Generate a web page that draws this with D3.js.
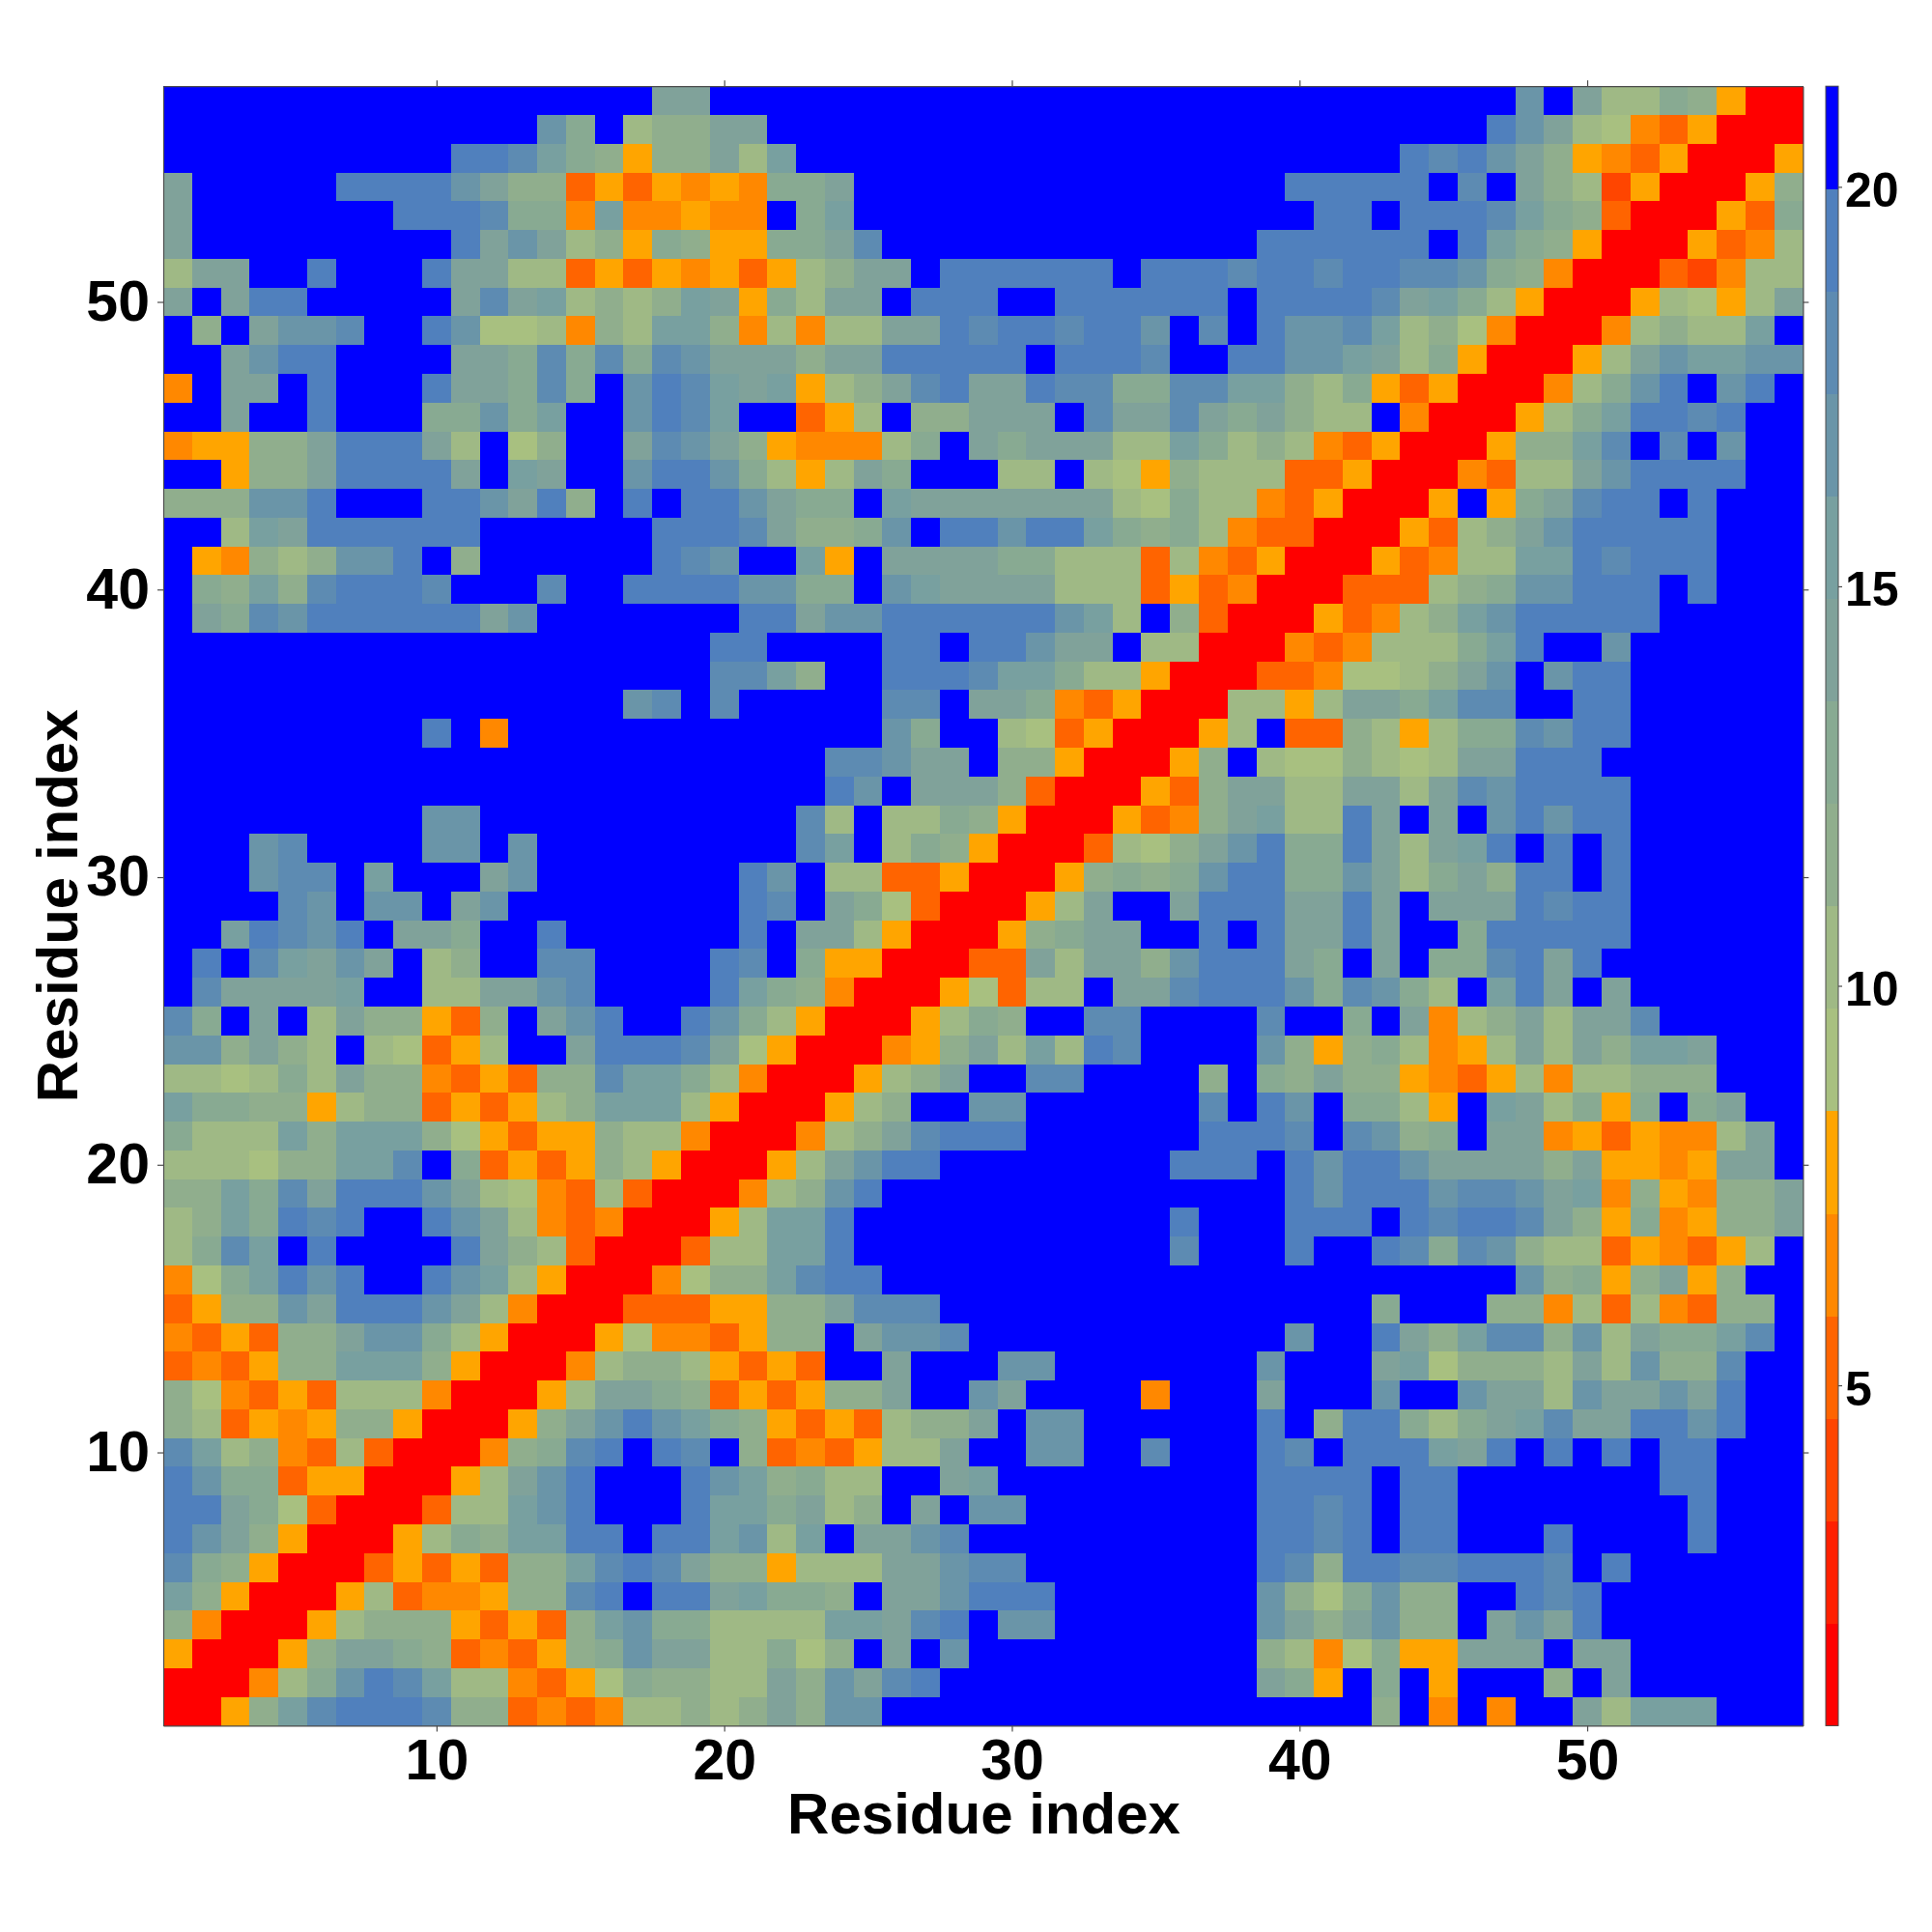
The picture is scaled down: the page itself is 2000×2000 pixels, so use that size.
<!DOCTYPE html>
<html><head><meta charset="utf-8">
<script src="https://cdn.jsdelivr.net/npm/d3@7"></script>
<style>html,body{margin:0;padding:0;background:#fff}svg{display:block}</style>
</head><body><svg id="chart" width="2000" height="2000"></svg>
<script>
// Band code per cell: rows run from residue 57 (top) to residue 1 (bottom), columns from residue 1 to 57.
const distanceRows = [
"ffffffffff fffffffaaf ffffffffff ffffffffff fffffffcfa 7798500",
"ffffffffff fffc9f788a afffffffff ffffffffff ffffffeca7 6435000",
"ffffffffff eedb98588a 7bffffffff ffffffffff fffedeca85 4350005",
"afffffeeee ca88353545 499affffff fffffffffe eeeefdfa87 2500058",
"afffffffee ed994b4454 4f9bffffff ffffffffff eefeeedb98 3000539",
"afffffffff eaca785985 599adfffff ffffffffee eeeefeb985 0005347",
"7aaffefffe aa77353545 3578aafeee eeefeeedee deeddc9840 0032477",
"afaeefffff adab7878ba 597aafeeef feeeeeefee eedab97500 0576 57a",
"f8faccdffe c667487bb8 47477aaede edeecfdfec cdb7864000 47877bf",
"ffaceeffff aa9d9d9dca aa8aaeeeee feeedffeec cba7950005 7acbbcc",
"4faafefffe aa9d9fcedb ab578adeaa edd99ddbb8 7953500047 9cefcef",
"ffaffefff9 9c9bffcedb ff357f88aa afdaada9a8 77f4000579 beedeff",
"45588aeeea 7f68ffadca 8544479fa9 aaa77b9787 435000588b dfdfcff",
"ff588aeeee afbaffceec 9757a9fff7 7f76587773 350004377a ceeeeff",
"888ccefffe ecae8fefee ca99fbaaaa aaa7697743 50005f59ad eefefff",
"ff7baeeeee effffffeee da889cfeec eeb9897433 0005378ace eeeefff",
"f54878ccef 8ffffffedc ffb5faaaa9 9777374350 0053477bbe deeefff",
"f98b8deeed fffdffeeee cc99fcbaaa a777353400 0333789cce eefefff",
"fa9dceeeee eacfffffff eeacceeeee ecb7f83000 53478bceee eefffff",
"ffffffffff fffffffffe effffeefee caaf770004 347779beff cffffff",
"ffffffffff fffffffffd db8ffeeedb b977500033 46678acfce effffff",
"ffffffffff ffffffcdfd fffffddfaa 9435000775 7aa9bddffe effffff",
"fffffffffe f4ffffffff fffffc9ff7 63500057f3 3875799dce effffff",
"ffffffffff ffffffffff fffddcaaf8 8500058f76 68767aaeee fffffff",
"ffffffffff ffffffffff fffecfaaa8 3000538aa7 7aa7adceee effffff",
"fffffffffc cfffffffff ffd7f77985 0005348ab7 7eafafcece effffff",
"fffcdffffc cfcfffffff ffdbf79850 003768ace9 9ea7abefef effffff",
"fffcddfbff facfffffff ecf7733500 058989cee9 9ca79a8eef effffff",
"ffffdcfccf acffffffff edfa963000 57affaeeea aeafaaaede effffff",
"ffbedcefaa 9ffeffffff efaa750005 89aaffefea aeaff9eeee effffff",
"fefdbacaf7 8ffddffffe df95500033 a7aa8ceeea 9faf99deae fffffff",
"fdaaaabff7 7aacdffffe b984000563 77faadeeec 9dc97fbeaf affffff",
"d9faf7a885 38faceffec 9750005798 ffddffffdf f9fa478a7a adfffff",
"cc8a87f763 57ffaeeeda 65000458a7 b7edffffc8 5897457a7a 8bbafff",
"776797a884 35388dbb97 4000578aff ddffff8f98 a885435747 7888fff",
"b998857883 53578bbb75 000578ffcc ffffffdfec f9975fba79 59f9aff",
"9777b8bbb8 6535587740 00478adeee ffffffeeed fdc89faa45 35447af",
"777688bbdf 9353587500 057aceefff fffffeeefe ceecaaaa8a 5545aaf",
"88b9daeeec a764373000 478cefffff fffffffffe ceeecddcab 485488a",
"78b9edeffe ca74340005 7bbeffffff fffffefffe eefedeeda8 594588a",
"79dbfeffff ea87300037 7bbeffffff fffffdfffe ffed9dc877 354357f",
"469beceffe cb75000468 8bdeefffff ffffffffff fffffffc89 58a58ff",
"3588caeeec a740003335 588adddfff ffffffffff ff9fff8847 374388f",
"435388acc9 7500056443 588faccdff fffffffffc ffea8bdd8c 7a99bdf",
"343588bbb8 5000478875 353ffafffc cfffffffcf ffab68887a 7c88dff",
"8643537774 00057aa983 53588affca ffff4fffaf ffcffcaa7c aacaeff",
"8735458850 0058acecb9 85353788af ccffffffef 8ee979abda aeeceff",
"db78437300 0489defedf 8343577aff ccffdfffed feeebaefef efeefff",
"ec99355000 57acefffec b8977ffabf ffffffffee eefeefffff ffeefff",
"eea9630003 77bcefffeb b9a78fafcc ffffffffee defeefffff fffefff",
"eca8500057 98bbeefeeb c7bfaacdff ffffffffee defeefffef fffefff",
"d985000353 5388bdeda8 85777aacdd ffffffffed 8eeddeeedf effffff",
"b850005734 4588defeea b998faacee efffffffc8 69c88ffede fffffff",
"8400057888 53538bc997 777bbadefc cfffffffca 8ac88facae fffffff",
"500058aa98 343589caa7 7968fafcff ffffffff87 46955aaafa affffff",
"000479cedb 7743569887 7a8cadefff ffffffffa9 5f9f5fff8f affffff",
"0058bdeeed 8834347787 8a8ccfffff ffffffffff ff8f4f4ffa 7bbbfff"
];
// Distance value that each band code stands for
const bandCodes = "0123456789abcdef".split("");
const bandValues = [1,3,4,5,6,8,9,10,12,13,14,15,17,18,19,21];
const bandColors = ["#ff0000","#ff2000","#ff4500","#ff6400","#ff8800","#ffa500",
  "#a8c080","#9fb985","#90ae8d","#88aa92","#80a29a","#78a0a0","#6a95a8","#5d8bb2","#5080bd","#0000ff"];
const residueTicks = [10,20,30,40,50];
const colorTicks = [5,10,15,20];
const colorDomain = [0.74,21.26];
const residueCount = 57;
const axisLabel = "Residue index";

const W = {left:169,right:1866.4,top:89.2,bottom:1786.4,barLeft:1890,barRight:1903};
const FONT = '"Liberation Sans",Arial,sans-serif';

const svg = d3.select("#chart");
const x = d3.scaleLinear().domain([0.5,residueCount+0.5]).range([W.left,W.right]);
const y = d3.scaleLinear().domain([0.5,residueCount+0.5]).range([W.bottom,W.top]);
const color = d3.scaleQuantize().domain(colorDomain).range(bandColors);
const valueOf = Object.fromEntries(bandCodes.map((c,i)=>[c,bandValues[i]]));

const cells = [];
distanceRows.forEach((row,ri)=>{
  row.replace(/\s/g,"").split("").forEach((ch,ci)=>{
    cells.push({col:ci+1,row:residueCount-ri,value:valueOf[ch]});
  });
});

svg.append("g").attr("shape-rendering","crispEdges").selectAll("rect").data(cells).join("rect")
  .attr("x",d=>x(d.col-0.5))
  .attr("y",d=>y(d.row+0.5))
  .attr("width",d=>x(d.col+0.5)-x(d.col-0.5)+0.5)
  .attr("height",d=>y(d.row-0.5)-y(d.row+0.5)+0.5)
  .attr("fill",d=>color(d.value));

function styleAxis(g,fs){
  g.selectAll(".domain").attr("stroke","#4d4d4d").attr("stroke-width",1.2);
  g.selectAll(".tick line").attr("stroke","#4d4d4d").attr("stroke-width",1.2);
  g.selectAll(".tick text").attr("fill","#000").attr("font-family",FONT)
   .attr("font-weight","bold").attr("font-size",fs);
}
const tickLen = 6;
svg.append("g").attr("transform",`translate(0,${W.bottom})`)
  .call(d3.axisBottom(x).tickValues(residueTicks).tickSize(tickLen).tickSizeOuter(0).tickPadding(8))
  .call(styleAxis,59);
svg.append("g").attr("transform",`translate(0,${W.top})`)
  .call(d3.axisTop(x).tickValues(residueTicks).tickSize(tickLen).tickSizeOuter(0).tickFormat(""))
  .call(styleAxis,59);
svg.append("g").attr("transform",`translate(${W.left},0)`)
  .call(d3.axisLeft(y).tickValues(residueTicks.slice()).tickSize(tickLen).tickSizeOuter(0).tickPadding(8))
  .call(styleAxis,59);
svg.append("g").attr("transform",`translate(${W.right},0)`)
  .call(d3.axisRight(y).tickValues(residueTicks).tickSize(tickLen).tickSizeOuter(0).tickFormat(""))
  .call(styleAxis,59);

svg.append("text").attr("x",1018.5).attr("y",1898).attr("text-anchor","middle")
  .attr("font-family",FONT).attr("font-weight","bold").attr("font-size",60).attr("fill","#000").text(axisLabel);
svg.append("text").attr("transform",`translate(80,${(W.top+W.bottom)/2}) rotate(-90)`).attr("text-anchor","middle")
  .attr("font-family",FONT).attr("font-weight","bold").attr("font-size",60).attr("fill","#000").text(axisLabel);

// Colour bar
const cy = d3.scaleLinear().domain(colorDomain).range([W.bottom,W.top]);
const bins = bandColors.map(c=>{const [a,b]=color.invertExtent(c);return {a,b,c};});
svg.append("g").attr("shape-rendering","crispEdges").selectAll("rect").data(bins).join("rect")
  .attr("x",W.barLeft).attr("width",W.barRight-W.barLeft)
  .attr("y",d=>cy(d.b)).attr("height",d=>cy(d.a)-cy(d.b)+0.5).attr("fill",d=>d.c);
svg.append("rect").attr("x",W.barLeft).attr("y",W.top).attr("width",W.barRight-W.barLeft)
  .attr("height",W.bottom-W.top).attr("fill","none").attr("stroke","#4d4d4d").attr("stroke-width",1);
svg.append("g").attr("transform",`translate(${W.barRight},0)`)
  .call(d3.axisRight(cy).tickValues(colorTicks).tickSize(4).tickSizeOuter(0).tickPadding(3))
  .call(styleAxis,50)
  .call(g=>g.select(".domain").remove())
  .call(g=>g.selectAll(".tick text").attr("dy","0.4em"));
</script></body></html>
